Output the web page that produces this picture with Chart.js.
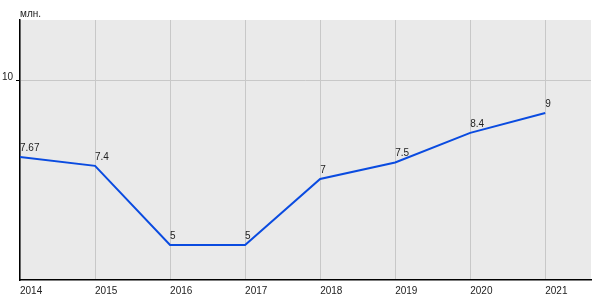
<!DOCTYPE html>
<html><head><meta charset="utf-8">
<script src="https://cdn.jsdelivr.net/npm/chart.js@4/dist/chart.umd.min.js"></script>
<style>html,body{margin:0;padding:0;background:#fff}#w{width:600px;height:300px}</style>
</head><body><div id="w"><canvas id="c" width="600" height="300"></canvas></div>
<script>
const years = [2014, 2015, 2016, 2017, 2018, 2019, 2020, 2021];
const values = [7.67, 7.4, 5, 5, 7, 7.5, 8.4, 9];
const valueLabels = ['7.67', '7.4', '5', '5', '7', '7.5', '8.4', '9'];
const yTicks = [10];
const unitLabel = 'млн.';

const FONT = 'Liberation Sans, Arial, sans-serif';

const bgPlugin = {
  id: 'bg',
  beforeDraw(chart) {
    const {ctx, chartArea: a} = chart;
    ctx.save();
    ctx.fillStyle = '#eaeaea';
    ctx.fillRect(a.left, a.top, a.right - a.left, a.bottom - a.top);
    ctx.restore();
  },
  afterDraw(chart) {
    const {ctx, chartArea: a} = chart;
    ctx.save();
    ctx.font = '10px ' + FONT;
    ctx.fillStyle = '#222';
    ctx.textAlign = 'left';
    ctx.textBaseline = 'middle';
    ctx.fillText(unitLabel, a.left, 14);
    const meta = chart.getDatasetMeta(0);
    meta.data.forEach((p, i) => {
      ctx.textBaseline = 'bottom';
      ctx.fillText(valueLabels[i], p.x, p.y - 4);
    });
    ctx.restore();
  }
};

new Chart(document.getElementById('c'), {
  type: 'line',
  data: {
    datasets: [{
      data: years.map((y, i) => ({x: y, y: values[i]})),
      borderColor: '#0a4be0',
      borderWidth: 2,
      pointRadius: 0,
      tension: 0,
      fill: false
    }]
  },
  options: {
    responsive: false,
    animation: false,
    layout: {padding: {top: 20, right: 9, left: 0, bottom: 0}},
    plugins: {legend: {display: false}, tooltip: {enabled: false}},
    scales: {
      x: {
        type: 'linear',
        min: 2014, max: 2021.61,
        afterBuildTicks: s => { s.ticks = years.map(v => ({value: v})); },
        afterFit: s => { s.height = 20; },
        grid: {color: '#c8c8c8', lineWidth: 1, drawTicks: false},
        border: {display: true, color: '#000', width: 1.5},
        ticks: {
          callback: v => String(v),
          align: 'start',
          padding: 5,
          maxRotation: 0,
          color: '#222',
          font: {family: FONT, size: 10}
        }
      },
      y: {
        min: 3.94, max: 11.82,
        afterBuildTicks: s => { s.ticks = yTicks.map(v => ({value: v})); },
        afterFit: s => { s.width = 20; },
        grid: {color: '#c8c8c8', lineWidth: 1, tickLength: 4, tickColor: '#000'},
        border: {display: true, color: '#000', width: 1.5},
        ticks: {
          callback: v => String(v),
          padding: 3,
          labelOffset: -3,
          color: '#222',
          font: {family: FONT, size: 10}
        }
      }
    }
  },
  plugins: [bgPlugin]
});
</script></body></html>
